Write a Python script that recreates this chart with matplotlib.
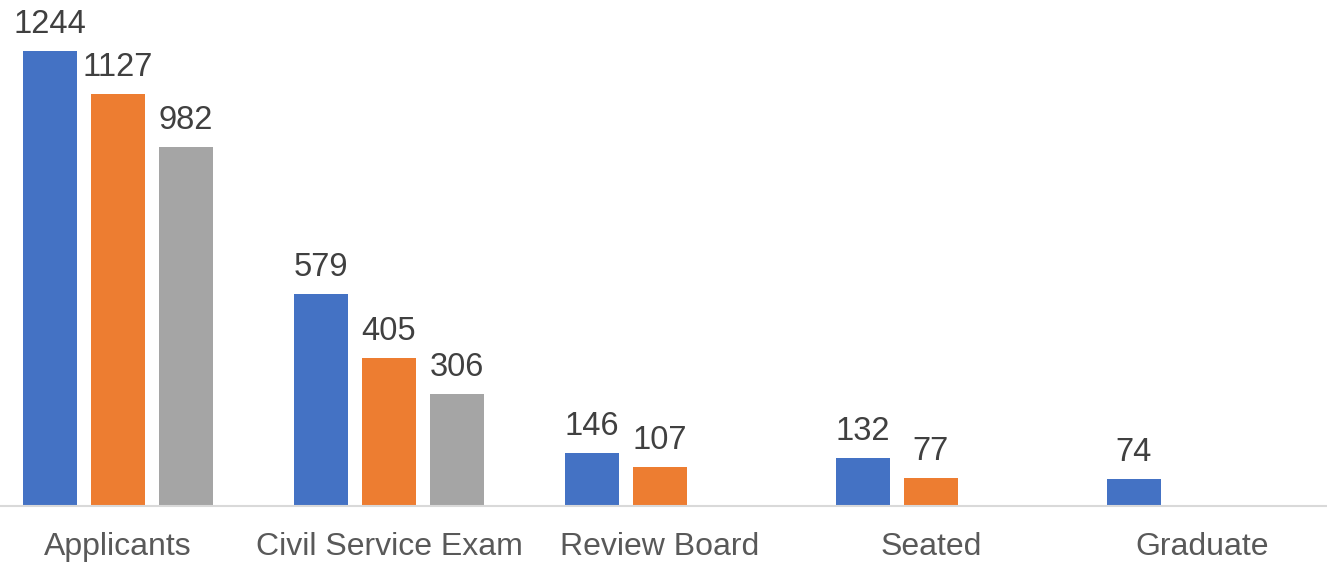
import matplotlib
matplotlib.use("Agg")
import matplotlib.pyplot as plt
import numpy as np

plt.rcParams['font.family'] = ['Liberation Sans', 'DejaVu Sans']

# data
stages = ["Applicants", "Civil Service Exam", "Review Board", "Seated", "Graduate"]
series_a = [1244, 579, 146, 132, 74]
series_b = [1127, 405, 107, 77, None]
series_c = [982, 306, None, None, None]
colors = ["#4472C4", "#ED7D31", "#A5A5A5"]

fig = plt.figure(figsize=(13.27, 5.63), dpi=100)
ax = fig.add_axes([0, 57 / 563, 1, 506 / 563])

x = np.arange(len(stages))
offsets = [-0.251, 0, 0.251]
width = 0.199

for vals, off, col in zip([series_a, series_b, series_c], offsets, colors):
    for i, v in enumerate(vals):
        if v is None:
            continue
        ax.bar(x[i] + off, v, width, color=col)
        ax.annotate(str(v), (x[i] + off, v), xytext=(0, 13), textcoords="offset points",
                    ha="center", va="baseline", fontsize=23.5, color="#404040")

ax.set_xlim(-118 / 271, (1327 - 118) / 271)
ax.set_ylim(0, 506 / 0.3658)
ax.set_xticks(x)
ax.set_xticklabels(stages, fontsize=23, color="#595959")
ax.tick_params(axis="x", length=0, pad=19)
ax.set_yticks([])
for s in ["top", "right", "left"]:
    ax.spines[s].set_visible(False)
ax.spines["bottom"].set_color("#D9D9D9")
ax.spines["bottom"].set_linewidth(1.5)

fig.savefig("out.png", dpi=100)
